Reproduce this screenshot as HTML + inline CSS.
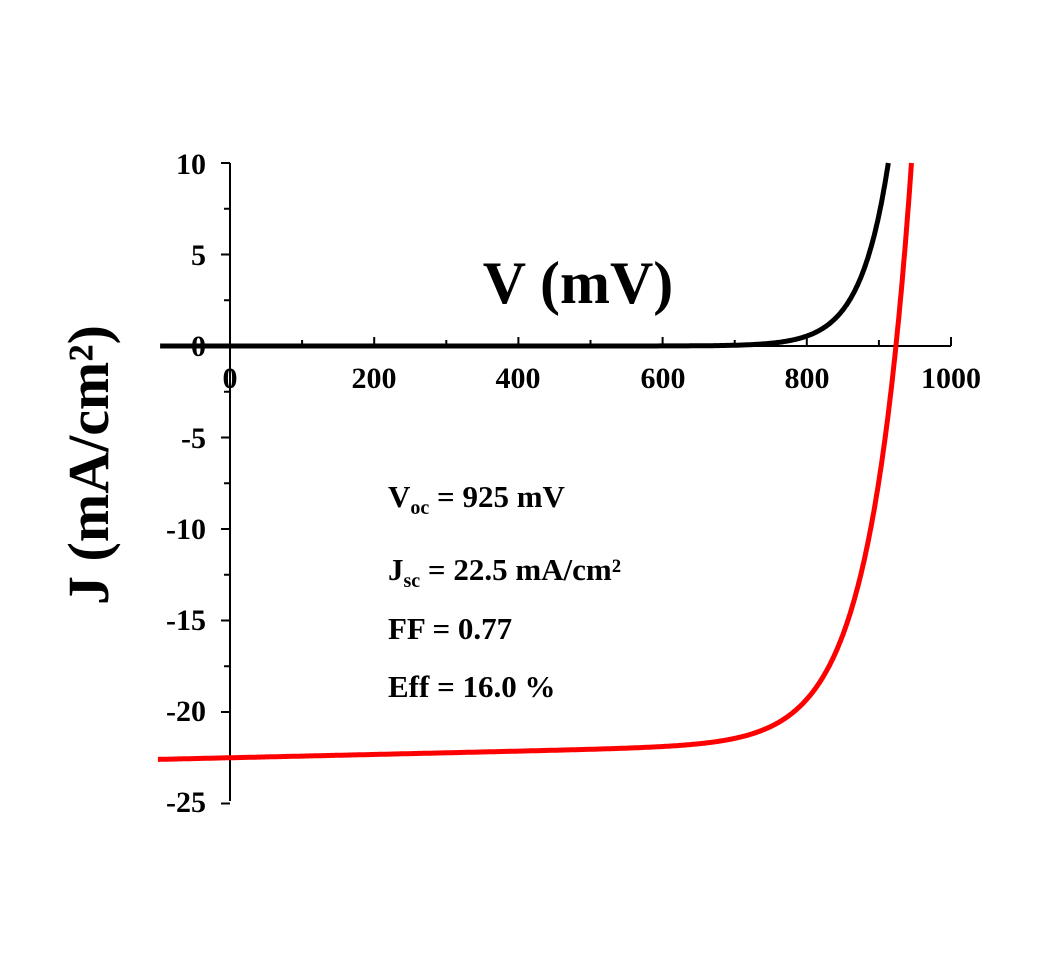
<!DOCTYPE html>
<html><head><meta charset="utf-8"><style>
html,body{margin:0;padding:0;background:#fff;}
svg{display:block;}
text{font-family:"Liberation Serif",serif;font-weight:bold;fill:#000;}
</style></head><body>
<svg id="s" width="1052" height="962" viewBox="0 0 1052 962" xmlns="http://www.w3.org/2000/svg">
<g stroke="#000" stroke-width="2" fill="none">
<line x1="230" y1="163" x2="230" y2="801"/>
<line x1="230" y1="346" x2="951" y2="346"/>
</g>
<g id="ticks" stroke="#000" stroke-width="2"></g>
<g font-size="30" text-anchor="end">
<text x="206" y="174">10</text>
<text x="206" y="265">5</text>
<text x="206" y="356">0</text>
<text x="206" y="448">-5</text>
<text x="206" y="539">-10</text>
<text x="206" y="630">-15</text>
<text x="206" y="721">-20</text>
<text x="206" y="812">-25</text>
</g>
<g font-size="30" text-anchor="middle">
<text x="230" y="388">0</text>
<text x="374" y="388">200</text>
<text x="518" y="388">400</text>
<text x="663" y="388">600</text>
<text x="807" y="388">800</text>
<text x="951" y="388">1000</text>
</g>
<path id="blk" fill="none" stroke="#000" stroke-width="5"/>
<path id="red" fill="none" stroke="#f00" stroke-width="5"/>
<text x="578" y="303" font-size="60" text-anchor="middle">V (mV)</text>
<text transform="translate(108,465) rotate(-90)" font-size="58" text-anchor="middle">J (mA/cm²)</text>
<g font-size="31">
<text x="388" y="507">V<tspan font-size="20" dy="7">oc</tspan><tspan dy="-7"> = 925 mV</tspan></text>
<text x="388" y="580">J<tspan font-size="20" dy="7">sc</tspan><tspan dy="-7"> = 22.5 mA/cm²</tspan></text>
<text x="388" y="639">FF = 0.77</text>
<text x="388" y="697">Eff = 16.0 %</text>
</g>
</svg>
<script>
var X=function(v){return 230+v*0.721},Y=function(j){return 346-j*18.3};
var t='';
for(var v=0;v<=1000;v+=100){var h=v%200==0?9:6;t+='<line x1="'+X(v)+'" y1="346" x2="'+X(v)+'" y2="'+(346-h)+'"/>';}
for(var j=10;j>=-25;j-=2.5){var h=(j%5==0)?9:6;t+='<line x1="230" y1="'+Y(j)+'" x2="'+(230-h)+'" y2="'+Y(j)+'"/>';}
document.getElementById('ticks').innerHTML=t;
function build(f,v0){var d='',pv=null,pj=null;for(var v=v0;v<=1000;v+=1){var j=f(v);if(j>10){var vv=pv+(10-pj)/(j-pj);d+='L'+X(vv).toFixed(1)+','+Y(10).toFixed(1);break;}d+=(d?'L':'M')+X(v).toFixed(1)+','+Y(j).toFixed(1);pv=v;pj=j;}return d;}
document.getElementById('blk').setAttribute('d',build(function(v){return 10*Math.exp((v-913)/38.8);},-97));
document.getElementById('red').setAttribute('d',build(function(v){return -22.5+v*0.0009+22.2*Math.exp((v-925)/57);},-100));
</script>
</body></html>
